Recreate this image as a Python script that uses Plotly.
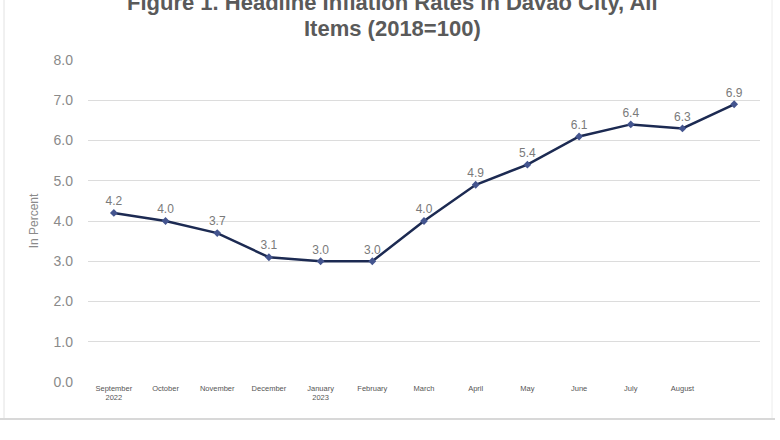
import plotly.graph_objects as go

months = ["September<br>2022", "October", "November", "December", "January<br>2023",
          "February", "March", "April", "May", "June", "July", "August", ""]
rates = [4.2, 4.0, 3.7, 3.1, 3.0, 3.0, 4.0, 4.9, 5.4, 6.1, 6.4, 6.3, 6.9]
y_ticks = [0, 1, 2, 3, 4, 5, 6, 7, 8]
y_tick_labels = ["0.0", "1.0", "2.0", "3.0", "4.0", "5.0", "6.0", "7.0", "8.0"]

idx = list(range(len(rates)))
FONT = "Liberation Sans, Arial, sans-serif"

L, T, PW, PH = 88, 60, 672, 322  # plot box in pixels


def px(xp):
    return (xp - L) / PW


def py(yp):
    return (T + PH - yp) / PH


fig = go.Figure()
fig.add_trace(go.Scatter(
    x=idx, y=rates, mode="lines+markers+text",
    line=dict(color="#1c2a52", width=2.5),
    marker=dict(symbol="diamond", size=6, color="#44558f"),
    text=[f"{v:.1f}" for v in rates], textposition="top center",
    textfont=dict(family=FONT, size=12, color="#7a7a7a"),
    cliponaxis=False, hoverinfo="skip"))

fig.update_layout(
    width=780, height=440,
    margin=dict(l=L, r=780 - L - PW, t=T, b=440 - T - PH),
    paper_bgcolor="white", plot_bgcolor="white",
    showlegend=False,
    font=dict(family=FONT, color="#7a7a7a"),
    xaxis=dict(range=[-0.5, 12.5], tickmode="array", tickvals=idx[:12], ticktext=months[:12],
               tickfont=dict(size=7.5, color="#555555"), showgrid=False, zeroline=False,
               showline=False, ticks=""),
    yaxis=dict(range=[0, 8], tickmode="array", tickvals=y_ticks, ticktext=y_tick_labels,
               tickfont=dict(size=14, color="#8a8a8a"), showgrid=True, gridcolor="#dcdcdc",
               gridwidth=1, zeroline=False, showline=False, ticks="", ticklabelstandoff=14,
               title=dict(text="In Percent", font=dict(size=12, color="#8a8a8a"), standoff=12)),
    annotations=[
        dict(text="<b>Figure 1. Headline Inflation Rates in Davao City, All</b>", xref="paper", yref="paper",
             x=px(392), y=py(3), showarrow=False, xanchor="center", yanchor="middle",
             font=dict(size=22, color="#5a5a5a", family=FONT)),
        dict(text="<b>Items (2018=100)</b>", xref="paper", yref="paper",
             x=px(392), y=py(29), showarrow=False, xanchor="center", yanchor="middle",
             font=dict(size=22, color="#5a5a5a", family=FONT)),
    ],
    shapes=[
        dict(type="line", xref="paper", yref="paper", x0=px(4), x1=px(4),
             y0=py(419), y1=py(-5), line=dict(color="#e2e2e2", width=1)),
        dict(type="line", xref="paper", yref="paper", x0=px(772), x1=px(772),
             y0=py(419), y1=py(-5), line=dict(color="#ececec", width=1)),
        dict(type="line", xref="paper", yref="paper", x0=px(0), x1=px(775),
             y0=py(419), y1=py(419), line=dict(color="#d8d8d8", width=2)),
    ],
)

fig.write_html("out.html", config={"displayModeBar": False},
               post_script="document.body.style.margin='0';document.body.style.overflow='hidden';")
